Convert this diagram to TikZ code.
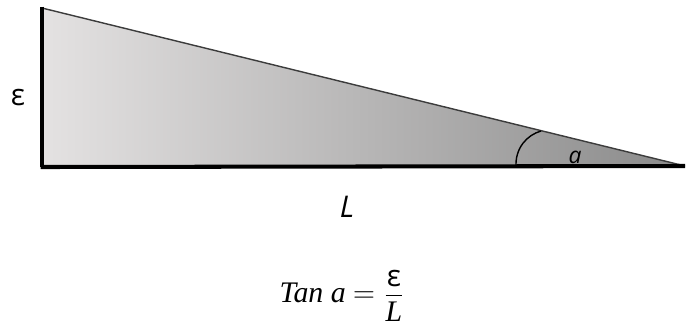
\documentclass[tikz,border=0pt]{standalone}
\usepackage{fontspec}
\usepackage{amsmath}
\setmainfont{Liberation Serif}
\newfontfamily\labelfont{Open Sans}
\usetikzlibrary{calc}
\definecolor{wedgelight}{RGB}{228,226,226}
\definecolor{wedgemid}{RGB}{200,197,197}
\definecolor{wedgedark}{RGB}{138,138,138}
\definecolor{edgegray}{RGB}{60,60,60}
\tikzset{
  sidelabel/.style={font=\labelfont\fontsize{17}{20}\selectfont},
}

\begin{document}
\begin{tikzpicture}[x=0.02cm,y=-0.02cm]
    \useasboundingbox (0,0) rectangle (686,326);
    % Cuna
    \coordinate (top) at (42,8);
    \coordinate (corner) at (42,167);
    \coordinate (tip) at (685,166);
    \fill[left color=wedgelight,middle color=wedgemid,right color=wedgedark] (top)--(corner)--(tip)--cycle;
    \draw[edgegray,line width=0.8pt] (top)--(tip);
    \draw[line width=2.8pt] (42,6.5)--(corner);
    \draw[line width=2.3pt] (40.6,167)--(tip);
    % Angulo
    \draw[line width=0.8pt] (516,167) .. controls (515,148) and (527,135) .. (541,131);
    % Etiquetas
    \node[sidelabel] (eps) at (18,97) {ε};
    \node[sidelabel,font=\labelfont\itshape\fontsize{17}{20}\selectfont] (len) at (347,207) {L};
    \node[font=\labelfont\itshape\fontsize{13}{16}\selectfont] (ang) at (575,157) {a};
    \node[font=\fontsize{17}{20}\selectfont,inner sep=0pt] (formula) at (342,296)
      {\textit{Tan a} $=\genfrac{}{}{0.6pt}{1}{\mbox{\labelfont ε}\rule[-4pt]{0pt}{4pt}}{\rule{0pt}{14pt}\mbox{\itshape L}}$};
\end{tikzpicture}
\end{document}
